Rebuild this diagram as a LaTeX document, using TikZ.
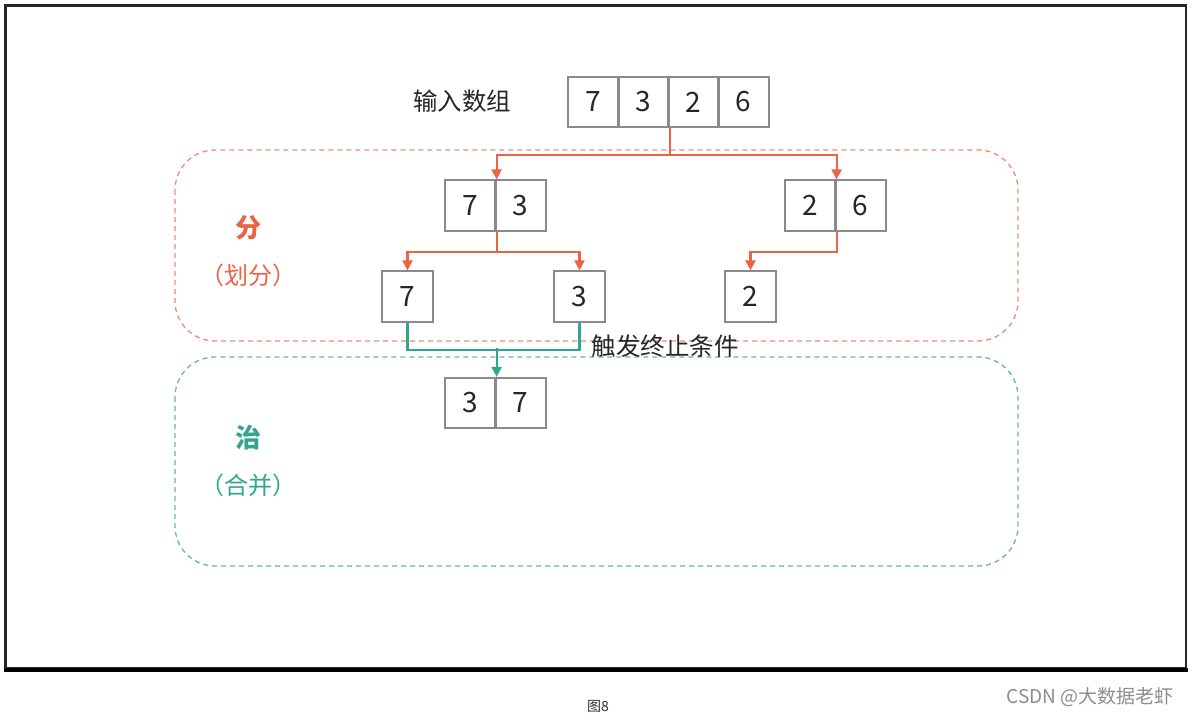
\documentclass[tikz,border=0pt]{standalone}
\usepackage{fontspec}
\setmainfont{Noto Sans CJK SC}
\usetikzlibrary{arrows.meta}
\definecolor{divc}{RGB}{234,100,70}
\definecolor{divl}{RGB}{238,140,118}
\definecolor{conq}{RGB}{48,166,145}
\definecolor{conql}{RGB}{105,182,166}
\definecolor{cellc}{RGB}{138,138,138}
\begin{document}
\begin{tikzpicture}[x=1pt,y=-1pt,
  cell/.style={draw=cellc,line width=1.7pt,minimum width=50.5pt,minimum height=50.5pt,inner sep=0pt,font=\fontsize{28}{30}\selectfont,text=black!85},
  divarrow/.style={draw=divc,line width=2.2pt,-{Triangle[width=10pt,length=10pt]}},
  conqline/.style={draw=conq,line width=2.2pt},
  conqarrow/.style={draw=conq,line width=2.2pt,-{Triangle[width=10pt,length=10pt]}},
  region/.style={dash pattern=on 5pt off 4pt,line width=1.3pt,rounded corners=40pt},
  plain/.style={font=\fontsize{24.5}{26}\selectfont,text=black!85},
  big/.style={font=\fontsize{26}{28}\selectfont\bfseries},
  side/.style={font=\fontsize{24}{26}\selectfont}]
\useasboundingbox (0,0) rectangle (1192,717);
\fill[white] (0,0) rectangle (1192,717);
% frame
\draw[line width=2.5pt,black!85] (5.5,5.5) rectangle (1186,668);
\draw[line width=4pt,black] (4,669.5) -- (1188,669.5);
% regions
\draw[region,draw=divl] (175,150) rectangle (1018,341);
\draw[region,draw=conql] (175,357) rectangle (1018,566);
% labels
\node[plain] (inp) at (462,101) {输入数组};
\node[big,text=divc] (fen) at (248,228) {分};
\node[side,text=divc] (fen2) at (248,275) {（划分）};
\node[big,text=conq] (zhi) at (248,438) {治};
\node[side,text=conq] (zhi2) at (248,485) {（合并）};
% top array
\node[cell] (t1) at (593.5,102) {7};
\node[cell] (t2) at (643.5,102) {3};
\node[cell] (t3) at (693.5,102) {2};
\node[cell] (t4) at (743.5,102) {6};
% level 2
\node[cell] (a1) at (470.5,205.5) {7};
\node[cell] (a2) at (520.5,205.5) {3};
\node[cell] (b1) at (810.5,205.5) {2};
\node[cell] (b2) at (860.5,205.5) {6};
% level 3
\node[cell] (c1) at (407.5,296.5) {7};
\node[cell] (c2) at (579.5,296.5) {3};
\node[cell] (c3) at (750.5,296.5) {2};
% merged
\node[cell] (d1) at (470.5,403) {3};
\node[cell] (d2) at (520.5,403) {7};
% connectors
\draw[divarrow] (t2.south east) -- ++(0,27) -| (a1.north east);
\draw[divarrow] (t2.south east) -- ++(0,27) -| (b1.north east);
\draw[divarrow] (a1.south east) -- ++(0,20) -| (c1.north);
\draw[divarrow] (a1.south east) -- ++(0,20) -| (c2.north);
\draw[divarrow] (b1.south east) -- ++(0,20) -| (c3.north);
\draw[conqline] (c1.south) -- ++(0,27) -| (c2.south);
\coordinate (tj) at ([yshift=29pt]d1.north east);
\draw[conqarrow] (tj) -- (d1.north east);
\node[plain] (trig) at (665,346) {触发终止条件};
% caption
\node[font=\fontsize{14}{16}\selectfont,text=black!80] (cap) at (598,706) {图8};
\node[font=\fontsize{19}{21}\selectfont,text=black!45] (csdn) at (1090,697) {CSDN @大数据老虾};
\end{tikzpicture}
\end{document}
